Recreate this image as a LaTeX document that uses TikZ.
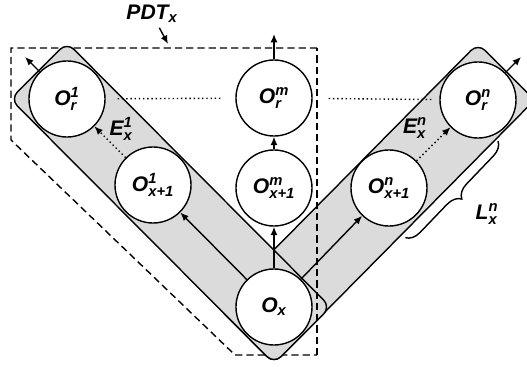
\documentclass[tikz,border=0pt]{standalone}
\usepackage{fontspec}
\setmainfont{Liberation Sans}
\usepackage{amsmath}
\usetikzlibrary{arrows.meta,calc,decorations.pathreplacing}

\newcommand{\lblfont}{\fontsize{15}{18}\selectfont\bfseries\itshape}
\newcommand{\obj}[3]{$\text{#1}^{\text{#2}}_{\text{#3}}$}

\tikzset{
  state/.style={circle,draw,fill=white,line width=1pt,minimum size=1.9cm,inner sep=0pt},
  band/.style={draw,fill=black!14,line width=1pt,rounded corners=7pt},
  pdtbox/.style={line width=1pt,dash pattern=on 5pt off 3pt},
  link/.style={line width=1pt,-{Latex[length=6pt,width=5pt]}},
  dotlink/.style={dotted,line width=1pt,-{Latex[length=6pt,width=5pt]}},
  level/.style={dotted,line width=1pt}
}

\begin{document}
\begin{tikzpicture}[x=0.025cm,y=-0.025cm,font=\lblfont]
%\draw[help lines,step=20] (0,0) grid (527,367);
\clip (0,0) rectangle (527,367);

% centres of the objects
\coordinate (pOx)  at (274,307);
\coordinate (pOx1) at (153,185);
\coordinate (pOxm) at (274,188);
\coordinate (pOxn) at (389,188);
\coordinate (pOr1) at (67,99);
\coordinate (pOrm) at (274,98);
\coordinate (pOrn) at (478,100);

% right band first, then the dashed PDT box, then the left band
\draw[band] ($(pOrn)+(0,-56.6)$) -- ($(pOrn)+(56.6,0)$) -- ($(pOx)+(0,56.6)$)
  -- ($(pOx)+(-56.6,0)$) -- cycle;
\draw[pdtbox] (317,48) -- (11,48) -- (11,140) -- (235,355) -- (317,355);
\draw[band] ($(pOr1)+(0,-56.6)$) -- ($(pOx)+(56.6,0)$) -- ($(pOx)+(0,56.6)$)
  -- ($(pOr1)+(-56.6,0)$) -- cycle;
\draw[pdtbox] (317,355) -- (317,48);

% objects
\node[state] (Ox)  at (pOx)  {$\text{O}_{\text{x}}$};
\node[state] (Ox1) at (pOx1) {\obj{O}{1}{x+1}};
\node[state] (Oxm) at (pOxm) {\obj{O}{m}{x+1}};
\node[state] (Oxn) at (pOxn) {\obj{O}{n}{x+1}};
\node[state] (Or1) at (pOr1) {\obj{O}{1}{r}};
\node[state] (Orm) at (pOrm) {\obj{O}{m}{r}};
\node[state] (Orn) at (pOrn) {\obj{O}{n}{r}};

% labels
\node (pdt) at (152,14) {$\text{PDT}_{\text{x}}$};
\node (E1) at (121,129) {\obj{E}{1}{x}};
\node (En) at (415,128) {\obj{E}{n}{x}};
\node (Ln) at (487,214) {\obj{L}{n}{x}};

\coordinate (pdtTip) at (168,44);
\coordinate (out1) at (25,57);
\coordinate (outm) at (274,34);
\coordinate (outn) at (521,57);
\coordinate (brTop) at (498,141);
\coordinate (brBot) at (405,238);

% edges
\draw[link] (Ox) -- (Ox1);
\draw[link] (Ox) -- (Oxm);
\draw[link] (Ox) -- (Oxn);
\draw[link] (Oxm) -- (Orm);
\draw[dotlink] (Ox1) -- (Or1);
\draw[dotlink] (Oxn) -- (Orn);
\draw[link] (Or1) -- (out1);
\draw[link] (Orm) -- (outm);
\draw[link] (Orn) -- (outn);
\draw[link] (pdt) -- (pdtTip);
\draw[level,shorten <=0.3cm,shorten >=0.35cm] (Or1) -- (Orm);
\draw[level,shorten <=0.4cm,shorten >=0.2cm] (Orm) -- (Orn);
\draw[line width=1pt,decorate,decoration={brace,amplitude=10pt}] (brTop) -- (brBot);
\end{tikzpicture}
\end{document}
